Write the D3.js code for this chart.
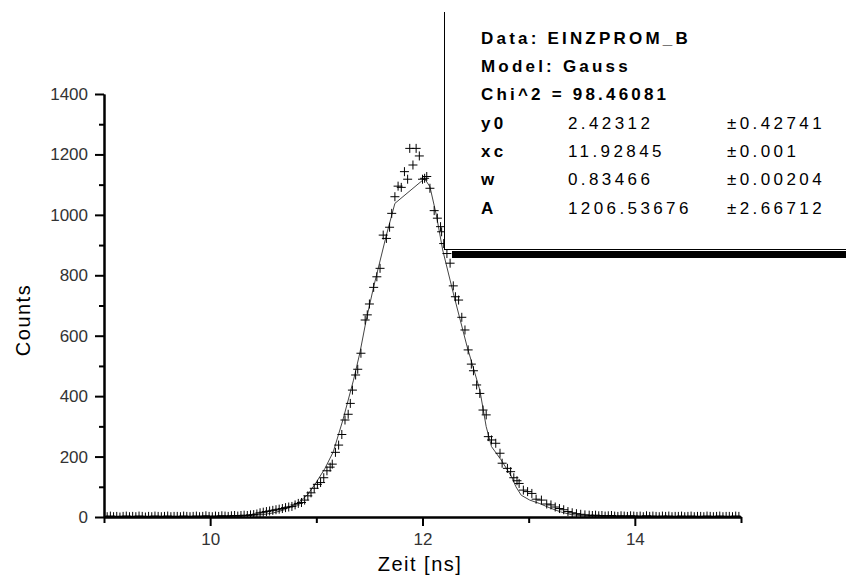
<!DOCTYPE html>
<html>
<head>
<meta charset="utf-8">
<script src="https://cdn.jsdelivr.net/npm/d3@7"></script>
<style>
  body { margin: 0; background: #fff; }
  text { font-family: "Liberation Sans", Arial, sans-serif; }
</style>
</head>
<body>
<div id="chart"></div>
<script>
// measured data (time in ns, counts)
const zeit = [
  9.00, 9.03, 9.06, 9.09, 9.12, 9.15, 9.18, 9.21, 9.24, 9.27,
  9.30, 9.33, 9.36, 9.39, 9.42, 9.45, 9.48, 9.51, 9.54, 9.57,
  9.60, 9.63, 9.66, 9.69, 9.72, 9.75, 9.78, 9.81, 9.84, 9.87,
  9.90, 9.93, 9.96, 9.99, 10.02, 10.05, 10.08, 10.11, 10.14, 10.17,
  10.20, 10.23, 10.26, 10.29, 10.32, 10.35, 10.38, 10.41,
  10.44, 10.47, 10.50, 10.53, 10.56, 10.59, 10.62, 10.65, 10.68, 10.71,
  10.74, 10.77, 10.80, 10.83, 10.86, 10.89, 10.92, 10.95, 10.98, 11.01,
  11.04, 11.07, 11.10, 11.13, 11.15, 11.18, 11.21, 11.24, 11.27, 11.30,
  11.32, 11.34, 11.37, 11.39, 11.42, 11.46, 11.48, 11.50, 11.54, 11.57,
  11.60, 11.63, 11.66, 11.69, 11.71, 11.74, 11.77, 11.80, 11.83, 11.86,
  11.88, 11.91, 11.94, 11.97, 12.00, 12.02, 12.04, 12.07, 12.11, 12.14,
  12.17, 12.18, 12.20, 12.23, 12.26, 12.29, 12.31, 12.34, 12.37, 12.40,
  12.43, 12.46, 12.48, 12.51, 12.54, 12.57, 12.60, 12.62, 12.65, 12.69,
  12.73, 12.75, 12.80, 12.83, 12.86, 12.89, 12.91, 12.95, 12.99, 13.03,
  13.07, 13.12, 13.17, 13.21, 13.25, 13.29, 13.33, 13.37, 13.41, 13.45,
  13.49, 13.53, 13.57,
  13.60, 13.63, 13.66, 13.69, 13.72, 13.75, 13.78, 13.81, 13.84, 13.87,
  13.90, 13.93, 13.96, 13.99, 14.02, 14.05, 14.08, 14.11, 14.14, 14.17,
  14.20, 14.23, 14.26, 14.29, 14.32, 14.35, 14.38, 14.41, 14.44, 14.47,
  14.50, 14.53, 14.56, 14.59, 14.62, 14.65, 14.68, 14.71, 14.74, 14.77,
  14.80, 14.83, 14.86, 14.89, 14.92, 14.95, 14.98
];
const counts = [
  2, 1, 3, 1, 2, 0, 2, 3, 1, 2,
  1, 3, 2, 0, 2, 1, 3, 2, 1, 2,
  3, 1, 2, 2, 1, 3, 2, 1, 2, 3,
  1, 2, 4, 2, 1, 3, 2, 4, 3, 2,
  4, 5, 3, 5, 6, 5, 7, 8,
  10, 14, 16, 18, 20, 22, 24, 26, 28, 31,
  33, 35, 40, 45, 48, 56, 70, 80, 95, 108,
  114, 130, 153, 165, 175, 214, 238, 273, 321, 340,
  376, 420, 470, 489, 542, 652, 669, 705, 760, 795,
  823, 933, 922, 959, 1005, 1060, 1095, 1091, 1143, 1118,
  1220, 1165, 1220, 1195, 1118, 1121, 1127, 1088, 1014, 989,
  961, 944, 905, 872, 840, 765, 729, 718, 661, 619,
  553, 506, 484, 437, 409, 354, 338, 266, 255, 244,
  211, 178, 161, 150, 130, 120, 111, 89, 84, 78,
  59, 56, 43, 40, 33, 28, 24, 18, 14, 11,
  9, 7, 6,
  5, 6, 4, 5, 3, 4, 5, 3, 2, 4,
  3, 2, 4, 3, 2, 3, 1, 4, 2, 3,
  2, 1, 3, 2, 3, 1, 2, 2, 3, 1,
  2, 3, 1, 2, 2, 1, 3, 2, 1, 2,
  3, 1, 2, 2, 1, 3, 2
];

// fit curve as drawn
const fitZeit = [9.00, 10.00, 10.30, 10.50, 10.60, 10.70, 10.80, 10.84, 10.92, 11.00,
  11.08, 11.16, 11.25, 11.35, 11.41, 11.47, 11.54, 11.66, 11.74, 12.02,
  12.07, 12.13, 12.19, 12.29, 12.42, 12.54, 12.60, 12.65, 12.74, 12.84,
  12.88, 12.93, 13.01, 13.10, 13.20, 13.30, 13.40, 13.50, 13.60, 15.00];
const fitCounts = [2.4, 2.4, 3, 8, 14, 24, 42, 50, 75, 115,
  160, 216, 321, 453, 543, 652, 762, 933, 1038, 1120,
  1093, 1000, 884, 741, 564, 420, 299, 233, 189, 133,
  100, 72, 56, 45, 30, 17, 8, 4, 2.4, 2.4];

const xMajor = [10, 12, 14];
const xMinor = [9, 11, 13, 15];
const yMajor = [0, 200, 400, 600, 800, 1000, 1200, 1400];
const yMinor = [100, 300, 500, 700, 900, 1100, 1300];

const fitHeader = ["Data: EINZPROM_B", "Model: Gauss", "Chi^2 = 98.46081"];
const paramNames = ["y0", "xc", "w", "A"];
const paramValues = ["2.42312", "11.92845", "0.83466", "1206.53676"];
const paramErrors = ["\u00b10.42741", "\u00b10.001", "\u00b10.00204", "\u00b12.66712"];

// size
let svgWidth = 846, svgHeight = 583;
let margin = {top: 94, right: 105, bottom: 66, left: 104};
let width = svgWidth - margin.left - margin.right;
let height = svgHeight - margin.top - margin.bottom;

let svg = d3.select("#chart").append("svg")
  .attr("width", svgWidth)
  .attr("height", svgHeight);

let chart = svg.append("g")
  .attr("transform", `translate(${margin.left}, ${margin.top})`);

let x = d3.scaleLinear().domain([9, 15]).range([0, width]);
let y = d3.scaleLinear().domain([0, 1400]).range([height, 0]);

// clip data to the plot area
svg.append("defs").append("clipPath").attr("id", "plotClip")
  .append("rect").attr("x", 0).attr("y", 0).attr("width", width).attr("height", height);

let plot = chart.append("g").attr("clip-path", "url(#plotClip)");

// fit line
let fitData = fitZeit.map((t, i) => ({t: t, c: fitCounts[i]}));
plot.append("path")
  .datum(fitData)
  .attr("fill", "none")
  .attr("stroke", "#444")
  .attr("stroke-width", 1)
  .attr("d", d3.line().x(d => x(d.t)).y(d => y(d.c)));

// data markers
let pts = zeit.map((t, i) => ({t: t, c: counts[i]}));
plot.selectAll("path.pt")
  .data(pts)
  .enter()
  .append("path")
  .attr("class", "pt")
  .attr("transform", d => `translate(${x(d.t)}, ${y(d.c)})`)
  .attr("d", "M-4.5,0H4.5M0,-4.5V4.5")
  .attr("stroke", "#000")
  .attr("stroke-width", 1)
  .attr("fill", "none");

// axes
function styleAxis(g) {
  g.selectAll(".domain, .tick line").attr("stroke", "#000").attr("stroke-width", 2);
  g.selectAll(".tick text").attr("fill", "#333").style("font-size", "17px")
    .style("font-family", "'Liberation Sans', Arial, sans-serif");
}

chart.append("g")
  .attr("transform", `translate(0, ${height})`)
  .call(d3.axisBottom(x).tickValues(xMinor).tickSize(6).tickSizeOuter(0).tickFormat(""))
  .call(styleAxis);
chart.append("g")
  .attr("transform", `translate(0, ${height})`)
  .call(d3.axisBottom(x).tickValues(xMajor).tickSize(9).tickSizeOuter(0).tickPadding(7).tickFormat(d3.format("d")))
  .call(styleAxis);

chart.append("g")
  .call(d3.axisLeft(y).tickValues(yMinor).tickSize(5).tickSizeOuter(0).tickFormat(""))
  .call(styleAxis);
chart.append("g")
  .call(d3.axisLeft(y).tickValues(yMajor).tickSize(9).tickSizeOuter(0).tickPadding(7).tickFormat(d3.format("d")))
  .call(styleAxis);

// axis titles
svg.append("text")
  .attr("x", 420)
  .attr("y", 571)
  .attr("text-anchor", "middle")
  .style("font-size", "20px")
  .style("letter-spacing", "1.5px")
  .text("Zeit [ns]");
svg.append("text")
  .attr("transform", "translate(30, 320) rotate(-90)")
  .attr("text-anchor", "middle")
  .style("font-size", "20px")
  .style("letter-spacing", "1.5px")
  .text("Counts");

// fit results box
let box = svg.append("g");
box.append("rect")
  .attr("x", 444).attr("y", 12)
  .attr("width", 410).attr("height", 237)
  .attr("fill", "#fff");
box.append("line")
  .attr("x1", 444.5).attr("x2", 444.5).attr("y1", 12).attr("y2", 249.5)
  .attr("stroke", "#000").attr("stroke-width", 1);
box.append("line")
  .attr("x1", 444).attr("x2", 846).attr("y1", 249.5).attr("y2", 249.5)
  .attr("stroke", "#000").attr("stroke-width", 1);
box.append("rect")
  .attr("x", 452).attr("y", 251)
  .attr("width", 400).attr("height", 7)
  .attr("fill", "#000");

let rowY = [44, 72, 100, 129, 157, 185, 214];

box.selectAll("text.head")
  .data(fitHeader)
  .enter()
  .append("text")
  .attr("x", 481)
  .attr("y", (d, i) => rowY[i])
  .style("font-size", "17px")
  .style("font-weight", "bold")
  .style("letter-spacing", "3.2px")
  .text(d => d);

paramNames.forEach(function (name, i) {
  let yy = rowY[i + 3];
  box.append("text").attr("x", 481).attr("y", yy)
    .style("font-size", "17px").style("font-weight", "bold").style("letter-spacing", "3.2px")
    .text(name);
  box.append("text").attr("x", 568).attr("y", yy)
    .style("font-size", "17px").style("letter-spacing", "3.4px")
    .text(paramValues[i]);
  box.append("text").attr("x", 727).attr("y", yy)
    .style("font-size", "17px").style("letter-spacing", "3.4px")
    .text(paramErrors[i]);
});
</script>
</body>
</html>
